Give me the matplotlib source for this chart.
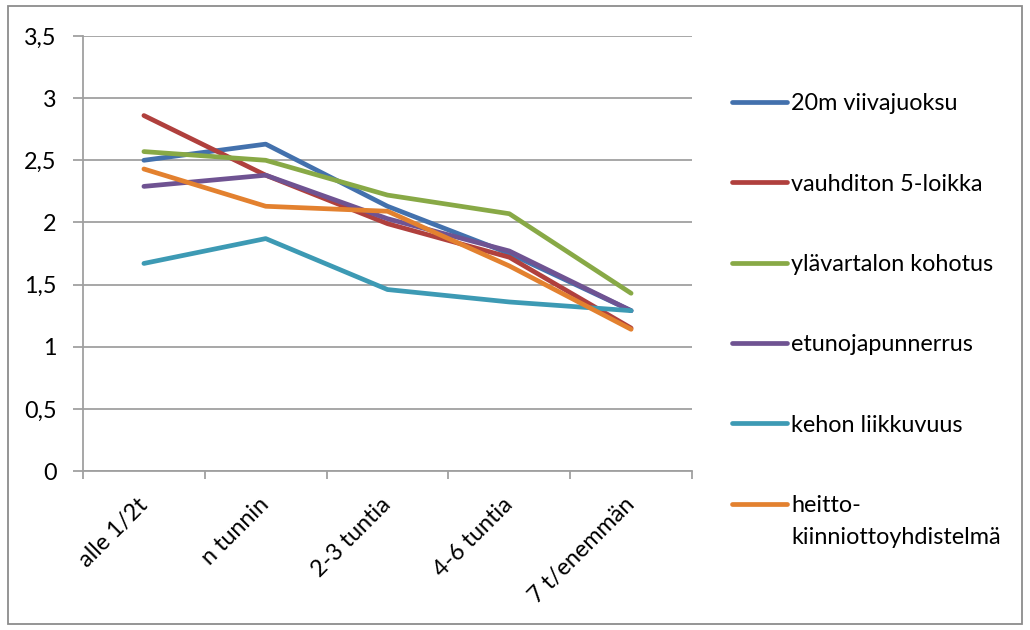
import matplotlib.pyplot as plt
from matplotlib.lines import Line2D
from matplotlib.patches import Rectangle
from matplotlib.ticker import FixedLocator

plt.rcParams['font.family'] = ['Lato', 'DejaVu Sans']

categories = ['alle 1/2t', 'n tunnin', '2-3 tuntia', '4-6 tuntia', '7 t/enemmän']

viivajuoksu = [2.50, 2.63, 2.13, 1.75, 1.29]
loikka = [2.86, 2.38, 1.99, 1.72, 1.15]
kohotus = [2.57, 2.50, 2.22, 2.07, 1.43]
punnerrus = [2.29, 2.38, 2.03, 1.77, 1.29]
liikkuvuus = [1.67, 1.87, 1.46, 1.36, 1.29]
heitto = [2.43, 2.13, 2.09, 1.65, 1.14]

series_names = ['20m viivajuoksu', 'vauhditon 5-loikka', 'ylävartalon kohotus',
                'etunojapunnerrus', 'kehon liikkuvuus', 'heitto-\nkiinniottoyhdistelmä']
series = [viivajuoksu, loikka, kohotus, punnerrus, liikkuvuus, heitto]
colors = ['#4371ad', '#b0403d', '#88a946', '#6f5392', '#3d9ab4', '#e3812f']

y_ticks = [0, 0.5, 1, 1.5, 2, 2.5, 3, 3.5]

FS = 16.8
LW = 3.4

fig = plt.figure(figsize=(10.3, 6.3), dpi=100)
ax = fig.add_axes([83 / 1030, 1 - 471 / 630, (692 - 83) / 1030, (471 - 36) / 630])

x = range(len(categories))
for vals, c in zip(series, colors):
    ax.plot(x, vals, color=c, lw=LW, solid_capstyle='round', solid_joinstyle='round')

ax.set_xlim(-0.5, len(categories) - 0.5)
ax.set_ylim(0, 3.5)
ax.set_yticks(y_ticks)
ax.set_yticklabels([f'{v:g}'.replace('.', ',') for v in y_ticks])
ax.grid(axis='y', color='#a0a0a0', lw=1.3)
ax.set_axisbelow(True)

ax.set_xticks(list(x))
ax.set_xticklabels(categories, rotation=45, ha='right', va='center',
                   rotation_mode='anchor')
ax.xaxis.set_minor_locator(FixedLocator([i - 0.5 for i in range(len(categories) + 1)]))
ax.tick_params(axis='x', which='major', length=0, pad=22, labelsize=FS)
ax.tick_params(axis='x', which='minor', length=6, width=1.3, color='#a0a0a0')
ax.tick_params(axis='y', length=7, width=1.3, color='#a0a0a0', pad=12, labelsize=FS)

for side in ['top', 'right']:
    ax.spines[side].set_visible(False)
for side in ['left', 'bottom']:
    ax.spines[side].set_color('#a0a0a0')
    ax.spines[side].set_linewidth(1.3)

# legend on the right, handle level with the first text line
for i, (name, c) in enumerate(zip(series_names, colors)):
    yy = 1 - (101.7 + i * 80.4) / 630
    fig.add_artist(Line2D([732 / 1030, 787 / 1030], [yy, yy], color=c, lw=LW,
                          solid_capstyle='round', transform=fig.transFigure))
    for k, line in enumerate(name.split('\n')):
        fig.text(791 / 1030, yy - k * 32 / 630, line, fontsize=FS,
                 va='center_baseline', ha='left')

fig.add_artist(Rectangle((8 / 1030, 6 / 630), 1014 / 1030, 618 / 630,
                         transform=fig.transFigure, fill=False,
                         edgecolor='#8c8c8c', lw=1.3))

fig.savefig('out.png', dpi=100)
